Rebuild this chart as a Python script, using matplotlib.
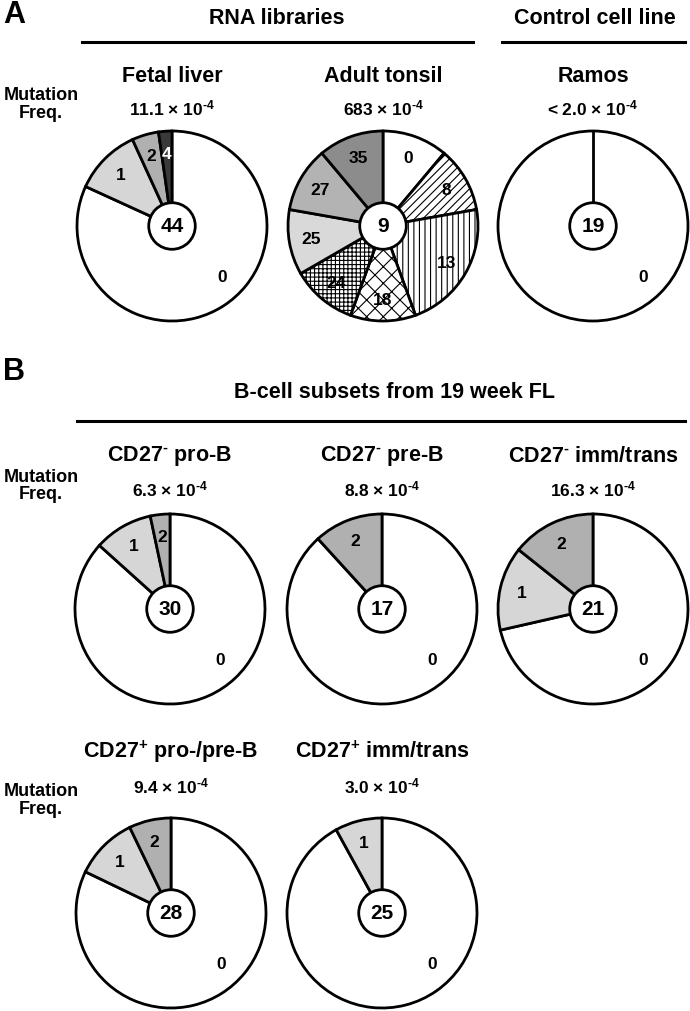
import matplotlib.pyplot as plt
import numpy as np
from matplotlib.lines import Line2D
from matplotlib.patches import Circle

plt.rcParams['font.family'] = ['Liberation Sans', 'DejaVu Sans']
plt.rcParams['mathtext.fontset'] = 'custom'
plt.rcParams['mathtext.rm'] = 'Liberation Sans:bold'
plt.rcParams['mathtext.it'] = 'Liberation Sans:bold'
plt.rcParams['mathtext.bf'] = 'Liberation Sans:bold'
plt.rcParams['mathtext.default'] = 'rm'
plt.rcParams['hatch.linewidth'] = 0.8

# number of mutations per sequence (slice labels) and number of sequences
fl_labels = ['0', '1', '2', '4']
fl_counts = [36, 5, 2, 1]
fl_freq = '11.1'

tonsil_labels = ['0', '8', '13', '18', '24', '25', '27', '35']
tonsil_counts = [1, 1, 2, 1, 1, 1, 1, 1]
tonsil_freq = '683'

ramos_labels = ['0']
ramos_counts = [19]
ramos_freq = '< 2.0'

prob_labels = ['0', '1', '2']
prob_counts = [26, 3, 1]
prob_freq = '6.3'

preb_labels = ['0', '2']
preb_counts = [15, 2]
preb_freq = '8.8'

immneg_labels = ['0', '1', '2']
immneg_counts = [15, 3, 3]
immneg_freq = '16.3'

propre_labels = ['0', '1', '2']
propre_counts = [23, 3, 2]
propre_freq = '9.4'

immpos_labels = ['0', '1']
immpos_counts = [23, 2]
immpos_freq = '3.0'

# fills
grey = {'0': 'white', '1': '#d6d6d6', '2': '#b0b0b0', '4': '#3a3a3a'}
tonsil_colors = ['white', 'white', 'white', 'white', 'white', '#d9d9d9', '#b3b3b3', '#8c8c8c']
tonsil_hatches = ['', '////', '|||', 'xx', '++++', '', '', '']

W, H = 690, 1012
fig = plt.figure(figsize=(W / 100, H / 100), dpi=100)


def fx(x):
    return x / W


def fy(y):
    return 1 - y / H


def txt(x, y, s, size, **kw):
    fig.text(fx(x), fy(y), s, fontsize=size, fontweight='bold',
             ha='center', va='center', **kw)


def hline(x0, x1, y):
    fig.add_artist(Line2D([fx(x0), fx(x1)], [fy(y), fy(y)], color='black', lw=2.2))


def draw_pie(cx, cy, labels, counts, colors=None, hatches=None, r=95):
    pad = 1.04
    ax = fig.add_axes([fx(cx - r * pad), fy(cy + r * pad), 2 * r * pad / W, 2 * r * pad / H])
    if colors is None:
        colors = [grey[l] for l in labels]
    wedges, _ = ax.pie(counts, colors=colors, startangle=90, counterclock=False,
                       radius=1, wedgeprops=dict(edgecolor='black', linewidth=2.0))
    if hatches:
        for w, h in zip(wedges, hatches):
            w.set_hatch(h)
    if len(counts) == 1:
        # a full wedge has no radial edge; draw it at the start angle
        a = np.radians(90)
        ax.plot([0, np.cos(a)], [0, np.sin(a)], color='black', lw=2.0)
    for w, lab in zip(wedges, labels):
        span = w.theta2 - w.theta1
        if span > 180:
            ang, dist = -45, 0.75
        else:
            ang, dist = (w.theta1 + w.theta2) / 2, 0.77
        a = np.radians(ang)
        ax.text(dist * np.cos(a), dist * np.sin(a), lab, ha='center', va='center',
                fontsize=12.5, fontweight='bold',
                color='white' if lab == '4' else 'black', zorder=6)
    ax.add_patch(Circle((0, 0), 0.245, facecolor='white', edgecolor='black', lw=2.0, zorder=5))
    ax.text(0, 0, str(sum(counts)), ha='center', va='center', fontsize=15,
            fontweight='bold', zorder=7)
    ax.set_xlim(-pad, pad)
    ax.set_ylim(-pad, pad)
    ax.axis('off')


def freq_text(x, y, f):
    txt(x, y, f + r' × 10$^{\text{-4}}$', 12.5)


def mut_label(y):
    txt(41, y - 9, 'Mutation', 13)
    txt(41, y + 9, 'Freq.', 13)


# ---- panel A ----
txt(14, 15, 'A', 22)
txt(277, 18, 'RNA libraries', 15.5)
hline(82, 473, 43)
txt(595, 18, 'Control cell line', 15.5)
hline(502, 685, 43)
mut_label(105)

txt(172, 76, 'Fetal liver', 15.5)
freq_text(172, 108, fl_freq)
draw_pie(172, 227, fl_labels, fl_counts)

txt(383, 76, 'Adult tonsil', 15.5)
freq_text(383, 108, tonsil_freq)
draw_pie(383, 227, tonsil_labels, tonsil_counts, colors=tonsil_colors, hatches=tonsil_hatches)

txt(593, 76, 'Ramos', 15.5)
freq_text(593, 108, ramos_freq)
draw_pie(593, 227, ramos_labels, ramos_counts)

# ---- panel B ----
txt(14, 372, 'B', 22)
txt(395, 393, 'B-cell subsets from 19 week FL', 15.5)
hline(77, 685, 422)
mut_label(486)

txt(170, 456, r'CD27$^{\text{-}}$ pro-B', 15.5)
freq_text(170, 489, prob_freq)
draw_pie(170, 610, prob_labels, prob_counts)

txt(382, 456, r'CD27$^{\text{-}}$ pre-B', 15.5)
freq_text(382, 489, preb_freq)
draw_pie(382, 610, preb_labels, preb_counts)

txt(593, 456, r'CD27$^{\text{-}}$ imm/trans', 15.5)
freq_text(593, 489, immneg_freq)
draw_pie(593, 610, immneg_labels, immneg_counts)

mut_label(800)
txt(171, 752, 'CD27$^{+}$ pro-/pre-B', 15.5)
freq_text(171, 786, propre_freq)
draw_pie(171, 914, propre_labels, propre_counts)

txt(382, 752, 'CD27$^{+}$ imm/trans', 15.5)
freq_text(382, 786, immpos_freq)
draw_pie(382, 914, immpos_labels, immpos_counts)

fig.savefig('out.png', dpi=100)
